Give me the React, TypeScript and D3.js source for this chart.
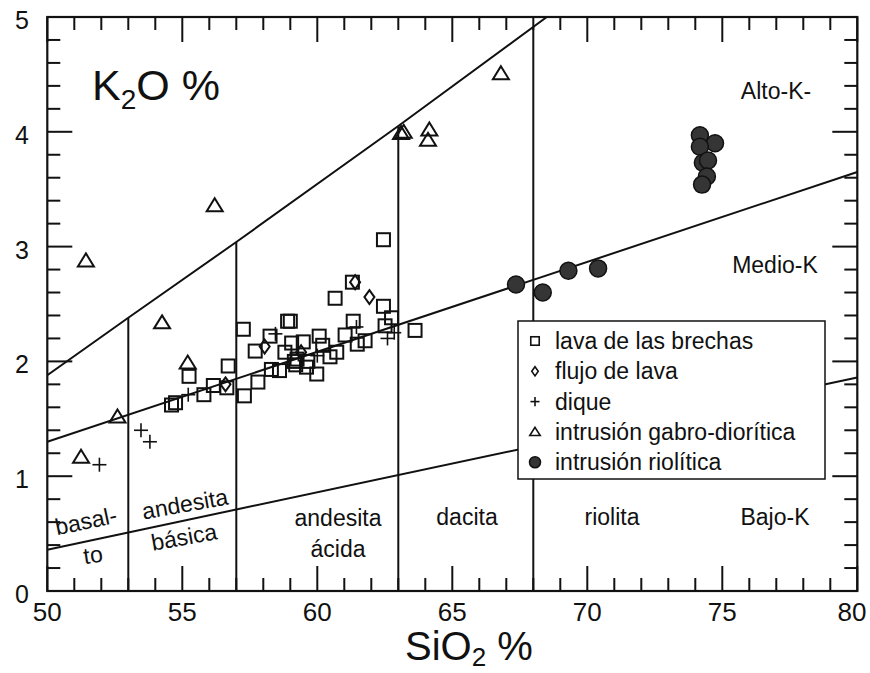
import React from 'react';
import * as d3 from 'd3';

// K2O vs SiO2 samples (SiO2 %, K2O %)
const lavaBrechas: [number, number][] = [
  [54.6, 1.62], [54.75, 1.64], [55.25, 1.87], [55.8, 1.71], [56.15, 1.79], [56.65, 1.77],
  [56.7, 1.96], [57.26, 2.28], [57.3, 1.7], [57.8, 1.82], [57.7, 2.09], [58.25, 2.22],
  [58.3, 1.93], [58.6, 1.92], [58.8, 2.08], [58.9, 2.35], [59.0, 2.35], [59.05, 2.16],
  [59.15, 2.0], [59.25, 2.02], [59.2, 1.97], [59.48, 2.17], [59.6, 1.95], [59.65, 2.0],
  [59.98, 1.89], [60.07, 2.22], [60.2, 2.14], [60.47, 2.04], [60.66, 2.55], [60.72, 2.08],
  [61.03, 2.23], [61.33, 2.35], [61.3, 2.69], [61.48, 2.15], [61.77, 2.18], [62.45, 3.06],
  [62.45, 2.48], [62.51, 2.31], [62.75, 2.38], [63.62, 2.27],
];
const flujoLava: [number, number][] = [
  [56.6, 1.8], [58.05, 2.13], [59.4, 2.08], [61.4, 2.69], [61.93, 2.56],
];
const dique: [number, number][] = [
  [51.93, 1.1], [53.47, 1.4], [53.8, 1.3], [55.22, 1.71], [58.45, 2.24], [59.3, 2.06],
  [60.0, 2.05], [61.45, 2.3], [62.6, 2.2], [62.85, 2.25],
];
const gabroDiorita: [number, number][] = [
  [51.25, 1.17], [51.43, 2.88], [52.6, 1.52], [54.25, 2.34], [55.2, 1.99], [56.2, 3.36],
  [63.1, 3.99], [63.2, 4.0], [64.1, 3.93], [64.15, 4.02], [66.8, 4.51],
];
const riolitica: [number, number][] = [
  [67.36, 2.67], [68.35, 2.6], [69.3, 2.79], [70.4, 2.81], [74.17, 3.97], [74.73, 3.9],
  [74.17, 3.87], [74.28, 3.73], [74.47, 3.75], [74.43, 3.61], [74.25, 3.54],
];

// classification boundaries
const altoMedioLine: [number, number][] = [[50, 1.88], [53, 2.38], [57, 3.04], [63, 4.05], [68.5, 5]];
const medioBajoLine: [number, number][] = [[50, 1.3], [80, 3.65]];
const bajoLine: [number, number][] = [[50, 0.36], [80, 1.86]];
const rockDividers = [53, 57, 63, 68];

const xTickLabels = [50, 55, 60, 65, 70, 75, 80];
const yTickLabels = [0, 1, 2, 3, 4, 5];

const legendItems = [
  { type: 'square', label: 'lava de las brechas' },
  { type: 'diamond', label: 'flujo de lava' },
  { type: 'cross', label: 'dique' },
  { type: 'triangle', label: 'intrusión gabro-diorítica' },
  { type: 'circle', label: 'intrusión riolítica' },
];

const FONT = '"Liberation Sans", Arial, Helvetica, sans-serif';

function Marker({ type, cx, cy, k = 1 }: { type: string; cx: number; cy: number; k?: number }) {
  const sw = k < 1 ? 1.6 : 2;
  if (type === 'square') {
    const s = 13 * k;
    return <rect x={cx - s / 2} y={cy - s / 2} width={s} height={s} fill="none" stroke="#111" strokeWidth={sw} />;
  }
  if (type === 'diamond') {
    const w = 5 * k, h = 7 * k;
    return <polygon points={`${cx},${cy - h} ${cx + w},${cy} ${cx},${cy + h} ${cx - w},${cy}`} fill="none" stroke="#111" strokeWidth={sw} />;
  }
  if (type === 'cross') {
    const r = 7 * k;
    return (
      <g stroke="#111" strokeWidth={1.6}>
        <line x1={cx - r} x2={cx + r} y1={cy} y2={cy} />
        <line x1={cx} x2={cx} y1={cy - r} y2={cy + r} />
      </g>
    );
  }
  if (type === 'triangle') {
    const w = 8 * k, h = 7 * k;
    return <polygon points={`${cx},${cy - h} ${cx + w},${cy + h - 1} ${cx - w},${cy + h - 1}`} fill="none" stroke="#111" strokeWidth={sw} />;
  }
  return <circle cx={cx} cy={cy} r={8.5 * k} fill="#353535" stroke="#111" strokeWidth={1.5} />;
}

export default function App() {
  const left = 47.3, right = 857.3, top = 17, bottom = 591;
  const x = d3.scaleLinear().domain([50, 80]).range([left, right]);
  const y = d3.scaleLinear().domain([0, 5]).range([bottom, top]);
  const upper = d3.scaleLinear().domain(altoMedioLine.map(d => d[0])).range(altoMedioLine.map(d => d[1]));

  const line = d3.line<[number, number]>().x(d => x(d[0])).y(d => y(d[1]));

  const xMinor = d3.range(51, 80, 1).filter(v => v % 5 !== 0);
  const yMinor = d3.range(1, 25, 1).filter(v => v % 5 !== 0).map(v => v / 5);

  const series: [string, [number, number][]][] = [
    ['square', lavaBrechas],
    ['diamond', flujoLava],
    ['cross', dique],
    ['triangle', gabroDiorita],
    ['circle', riolitica],
  ];

  const lg = { x: 518, y: 321, w: 307, h: 158, row0: 341, step: 30.3 };

  return (
    <svg width={870} height={673} style={{ position: 'absolute', left: 0, top: 0, background: '#fff' }} fontFamily={FONT}>
      <rect width={870} height={673} fill="#fff" />
      <defs>
        <clipPath id="plot"><rect x={left} y={top} width={right - left} height={bottom - top} /></clipPath>
      </defs>
      <g clipPath="url(#plot)">
        <path d={line(altoMedioLine) ?? ''} fill="none" stroke="#111" strokeWidth={2} />
        <path d={line(medioBajoLine) ?? ''} fill="none" stroke="#111" strokeWidth={2} />
        <path d={line(bajoLine) ?? ''} fill="none" stroke="#111" strokeWidth={2} />
        {rockDividers.map(v => (
          <line key={v} x1={x(v)} x2={x(v)} y1={y(0)} y2={y(upper(v))} stroke="#111" strokeWidth={2} />
        ))}
      </g>

      {/* ticks */}
      <g stroke="#111" strokeWidth={2}>
        {xMinor.map(v => (
          <g key={'xm' + v}>
            <line x1={x(v)} x2={x(v)} y1={bottom} y2={bottom - 13} />
            <line x1={x(v)} x2={x(v)} y1={top} y2={top + 13} />
          </g>
        ))}
        {xTickLabels.map(v => (
          <g key={'xM' + v}>
            <line x1={x(v)} x2={x(v)} y1={bottom} y2={bottom - 25} />
            <line x1={x(v)} x2={x(v)} y1={top} y2={top + 25} />
          </g>
        ))}
        {yMinor.map(v => (
          <g key={'ym' + v}>
            <line x1={left} x2={left + 13} y1={y(v)} y2={y(v)} />
            <line x1={right} x2={right - 13} y1={y(v)} y2={y(v)} />
          </g>
        ))}
        {yTickLabels.map(v => (
          <g key={'yM' + v}>
            <line x1={left} x2={left + 25} y1={y(v)} y2={y(v)} />
            <line x1={right} x2={right - 25} y1={y(v)} y2={y(v)} />
          </g>
        ))}
      </g>
      <rect x={left} y={top} width={right - left} height={bottom - top} fill="none" stroke="#111" strokeWidth={2.2} />

      {/* tick labels */}
      {xTickLabels.map(v => (
        <text key={'xl' + v} x={Math.min(x(v), 852)} y={621} fontSize={26} textAnchor="middle" fill="#111">{v}</text>
      ))}
      {yTickLabels.map(v => (
        <text key={'yl' + v} x={29} y={y(v) + 12} fontSize={25} textAnchor="end" fill="#111">{v}</text>
      ))}

      {/* axis titles */}
      <text x={92} y={100} fontSize={43} fill="#111">
        K<tspan fontSize={28} dy={9}>2</tspan><tspan dy={-9}>O %</tspan>
      </text>
      <text x={405} y={660} fontSize={40} fill="#111">
        SiO<tspan fontSize={26} dy={6}>2</tspan><tspan dy={-6}> %</tspan>
      </text>

      {/* field labels */}
      <g fontSize={23} fill="#111" textAnchor="middle" dominantBaseline="central">
        <text transform="translate(86,521) rotate(-12)">basal-</text>
        <text transform="translate(93,555) rotate(-8)">to</text>
        <text transform="translate(185,504) rotate(-10)">andesita</text>
        <text transform="translate(184,537) rotate(-10)">básica</text>
        <text x={338} y={518}>andesita</text>
        <text x={338} y={549}>ácida</text>
        <text x={467} y={517}>dacita</text>
        <text x={612} y={517}>riolita</text>
        <text x={775} y={517}>Bajo-K</text>
        <text x={775} y={265}>Medio-K</text>
        <text x={776} y={91}>Alto-K-</text>
      </g>

      {/* data */}
      {series.map(([type, pts]) => (
        <g key={type}>
          {pts.map((d, i) => <Marker key={i} type={type} cx={x(d[0])} cy={y(d[1])} />)}
        </g>
      ))}

      {/* legend */}
      <rect x={lg.x} y={lg.y} width={lg.w} height={lg.h} fill="#fff" stroke="#111" strokeWidth={1.5} />
      {legendItems.map((it, i) => (
        <g key={it.label}>
          <Marker type={it.type} cx={535} cy={lg.row0 + i * lg.step} k={0.65} />
          <text x={555} y={lg.row0 + i * lg.step + 8} fontSize={23} fill="#111">{it.label}</text>
        </g>
      ))}
    </svg>
  );
}
